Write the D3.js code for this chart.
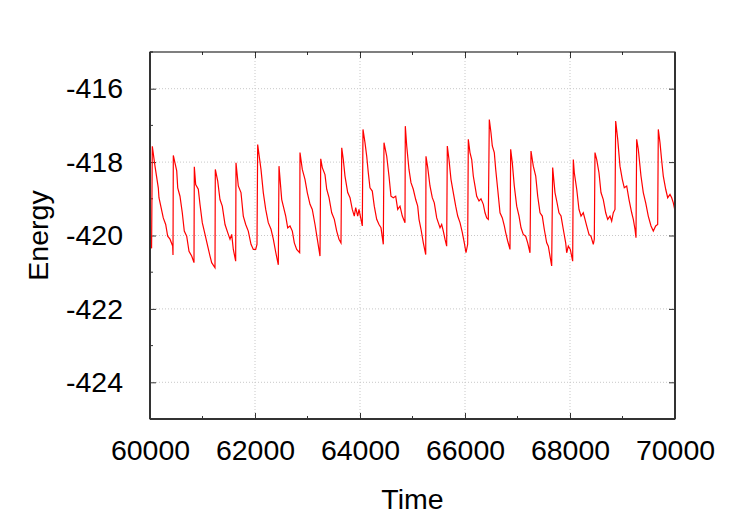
<!DOCTYPE html>
<meta charset="utf-8">
<script src="https://d3js.org/d3.v7.min.js"></script>
<style>
  body { margin: 0; background: #fff; }
  text { font-family: "Liberation Sans", Arial, sans-serif; }
</style>
<div id="chart"></div>
<script>

// time values
var time = [
  60000, 60030, 60044, 60095, 60158, 60171, 60253, 60299, 60337, 60381, 60432, 60438,
  60444, 60509, 60528, 60571, 60615, 60653, 60699, 60743, 60794, 60838,
  60844, 60870, 60920, 60952, 60996, 61048, 61099, 61143, 61175, 61238,
  61244, 61290, 61333, 61377, 61429, 61480, 61524, 61556, 61587, 61632,
  61638, 61682, 61733, 61777, 61823, 61872, 61924, 61968, 62013, 62038,
  62051, 62114, 62158, 62204, 62253, 62305, 62349, 62394, 62444,
  62457, 62509, 62539, 62585, 62623, 62667, 62711, 62749, 62794, 62851,
  62857, 62901, 62952, 62996, 63048, 63091, 63143, 63187, 63238,
  63252, 63282, 63333, 63366, 63410, 63461, 63511, 63556, 63600, 63638,
  63652, 63682, 63714, 63766, 63810, 63853, 63891, 63918, 63956, 63981, 64019, 64044,
  64057, 64095, 64128, 64158, 64190, 64234, 64272, 64318, 64362, 64400, 64444,
  64457, 64509, 64552, 64590, 64634, 64680, 64718, 64762, 64806, 64857,
  64863, 64890, 64933, 64971, 65015, 65061, 65099, 65124, 65162, 65206, 65252,
  65257, 65290, 65333, 65377, 65415, 65461, 65491, 65524, 65556, 65587, 65619, 65651,
  65663, 65695, 65733, 65777, 65823, 65861, 65905, 65949, 65987, 66019, 66051,
  66063, 66095, 66128, 66158, 66190, 66223, 66267, 66305, 66349, 66381, 66414, 66444,
  66463, 66495, 66520, 66558, 66585, 66623, 66667, 66711, 66749, 66775, 66813, 66857,
  66870, 66901, 66939, 66985, 67029, 67067, 67110, 67156, 67194, 67238,
  67257, 67301, 67347, 67385, 67429, 67472, 67510, 67556, 67587, 67619, 67651,
  67670, 67714, 67747, 67790, 67829, 67872, 67918, 67937, 67968, 68006, 68051,
  68063, 68082, 68128, 68171, 68210, 68253, 68286, 68318, 68362, 68400, 68444, 68463,
  68476, 68509, 68552, 68590, 68634, 68680, 68718, 68762, 68794, 68825, 68857,
  68870, 68909, 68952, 68996, 69034, 69080, 69124, 69175, 69206, 69238, 69257,
  69270, 69301, 69352, 69396, 69442, 69491, 69543, 69587, 69632, 69670,
  69682, 69714, 69747, 69777, 69823, 69861, 69905, 69937, 69968, 69987, 70000
]

// energy values, same order
var energy = [
  -419.9, -420.35, -417.57, -418.11, -418.70, -418.97, -419.52, -419.70, -420.02, -420.10, -420.29, -420.53,
  -417.82, -418.24, -418.70, -418.93, -419.38, -419.88, -420.02, -420.43, -420.56, -420.74,
  -418.13, -418.61, -418.74, -419.15, -419.65, -419.97, -420.29, -420.56, -420.74, -420.88,
  -418.20, -418.52, -419.02, -419.20, -419.70, -419.92, -420.10, -419.97, -420.38, -420.70,
  -418.02, -418.65, -418.83, -419.47, -419.70, -419.88, -420.24, -420.38, -420.38, -420.24,
  -417.52, -418.20, -418.83, -419.29, -419.65, -419.83, -420.10, -420.45, -420.80,
  -418.11, -419.02, -419.20, -419.47, -419.79, -419.74, -419.88, -420.20, -420.38, -420.47,
  -417.74, -418.20, -418.47, -418.83, -419.15, -419.29, -419.70, -420.10, -420.56,
  -417.91, -418.15, -418.34, -418.74, -418.97, -419.38, -419.56, -419.88, -420.10, -420.20,
  -417.61, -417.93, -418.38, -418.83, -418.97, -419.29, -419.47, -419.24, -419.47, -419.29, -419.56, -419.74,
  -417.11, -417.47, -417.84, -418.29, -418.70, -418.79, -419.20, -419.56, -419.70, -419.79, -420.24,
  -417.47, -417.84, -418.38, -418.93, -418.97, -418.93, -419.29, -419.20, -419.47, -419.65,
  -417.02, -417.56, -418.20, -418.56, -418.74, -419.02, -419.20, -419.56, -419.83, -420.20, -420.52,
  -417.84, -418.15, -418.65, -418.97, -419.11, -419.52, -419.65, -419.79, -419.70, -419.88, -420.10, -420.29,
  -417.56, -417.93, -418.47, -418.83, -419.20, -419.47, -419.65, -419.92, -420.20, -420.47, -420.24,
  -417.38, -417.74, -417.93, -418.38, -418.65, -418.93, -419.06, -419.00, -419.15, -419.38, -419.52, -419.56,
  -416.84, -417.20, -417.56, -417.74, -418.20, -418.74, -419.38, -419.52, -419.74, -419.92, -420.15, -420.38,
  -417.65, -418.02, -418.65, -419.20, -419.47, -419.79, -419.97, -420.02, -420.20, -420.47,
  -417.70, -418.11, -418.38, -418.93, -419.38, -419.47, -419.83, -420.20, -420.29, -420.56, -420.83,
  -418.15, -418.83, -419.06, -419.38, -419.47, -419.83, -420.20, -420.47, -420.29, -420.38, -420.70,
  -417.93, -418.29, -418.74, -419.29, -419.47, -419.38, -419.56, -419.74, -419.97, -420.02, -420.24, -420.10,
  -417.74, -417.93, -418.29, -418.83, -419.02, -419.38, -419.56, -419.47, -419.61, -419.38, -419.29,
  -416.88, -417.38, -418.11, -418.47, -418.70, -418.65, -419.02, -419.38, -419.56, -419.83, -420.06,
  -417.38, -417.65, -418.38, -418.83, -419.11, -419.47, -419.74, -419.88, -419.74, -419.70,
  -417.11, -417.47, -417.97, -418.38, -418.74, -418.97, -418.88, -418.97, -419.11, -419.24, -419.20
]

var xTicks = [60000, 62000, 64000, 66000, 68000, 70000]
var xMinor = [61000, 63000, 65000, 67000, 69000]
var yTicks = [-416, -418, -420, -422, -424]
var yMinor = [-415, -417, -419, -421, -423, -425]

var data = time.map(function(t, i) { return {t: t, e: energy[i]} })

var fontSize = 28.5

var margin = {top: 52, right: 75, bottom: 106, left: 150},
  width = 750 - margin.left - margin.right,
  height = 525 - margin.top - margin.bottom;

var svg = d3.select("#chart")
.append("svg")
  .attr("width", 750)
  .attr("height", 525)
.append("g")
  .attr("transform", "translate(" + margin.left + "," + margin.top + ")");

var x = d3.scaleLinear()
  .domain([60000, 70000])
  .range([0, width])

var y = d3.scaleLinear()
  .domain([-425, -415])
  .range([height, 0])

// grid lines
svg.selectAll(".gx")
.data(xTicks.slice(1, -1))
.enter()
.append("line")
  .attr("x1", function(d){ return x(d) })
  .attr("x2", function(d){ return x(d) })
  .attr("y1", 0)
  .attr("y2", height)
  .attr("stroke", "#c8c8c8")
  .attr("stroke-dasharray", "1,2")

svg.selectAll(".gy")
.data(yTicks)
.enter()
.append("line")
  .attr("x1", 0)
  .attr("x2", width)
  .attr("y1", function(d){ return y(d) })
  .attr("y2", function(d){ return y(d) })
  .attr("stroke", "#c8c8c8")
  .attr("stroke-dasharray", "1,2")

// axes with inward ticks (mirrored on top/right)
function styleAxis(g) {
  g.select(".domain").remove()
  g.selectAll(".tick line").attr("stroke", "#333")
  g.selectAll("text")
    .attr("font-size", fontSize)
    .attr("fill", "#000")
}

svg.append("g")
  .attr("transform", "translate(0," + height + ")")
  .call(d3.axisBottom(x).tickValues(xTicks).tickFormat(d3.format("d")).tickSizeInner(-6))
  .call(styleAxis)
  .selectAll("text").attr("y", 41).attr("dy", 0)

svg.append("g")
  .call(d3.axisLeft(y).tickValues(yTicks).tickFormat(d3.format("d")).tickSizeInner(-6).tickPadding(27))
  .call(styleAxis)
  .selectAll("text").text(function(d){ return "-" + Math.abs(d) })

svg.append("g")
  .call(d3.axisTop(x).tickValues(xTicks).tickSizeInner(-6).tickFormat(""))
  .call(styleAxis)

svg.append("g")
  .attr("transform", "translate(" + width + ",0)")
  .call(d3.axisRight(y).tickValues(yTicks).tickSizeInner(-6).tickFormat(""))
  .call(styleAxis)

// minor ticks
svg.selectAll(".mx")
.data(xMinor)
.enter()
.append("line")
  .attr("x1", function(d){ return x(d) })
  .attr("x2", function(d){ return x(d) })
  .attr("y1", height)
  .attr("y2", height - 3)
  .attr("stroke", "#333")

svg.selectAll(".mx2")
.data(xMinor)
.enter()
.append("line")
  .attr("x1", function(d){ return x(d) })
  .attr("x2", function(d){ return x(d) })
  .attr("y1", 0)
  .attr("y2", 3)
  .attr("stroke", "#333")

svg.selectAll(".my")
.data(yMinor)
.enter()
.append("line")
  .attr("x1", 0)
  .attr("x2", 3)
  .attr("y1", function(d){ return y(d) })
  .attr("y2", function(d){ return y(d) })
  .attr("stroke", "#333")

// the energy line
svg.append("path")
  .datum(data)
  .attr("fill", "none")
  .attr("stroke", "#ff0000")
  .attr("stroke-width", 1.2)
  .attr("d", d3.line()
    .x(function(d){ return x(d.t) })
    .y(function(d){ return y(d.e) }))

// frame
svg.append("rect")
  .attr("width", width)
  .attr("height", height)
  .attr("fill", "none")
  .attr("stroke", "#000")
  .attr("stroke-width", 1)

svg.append("line")
  .attr("x1", 0).attr("x2", 0)
  .attr("y1", 0).attr("y2", height)
  .attr("stroke", "#333")
  .attr("stroke-width", 2)

svg.append("line")
  .attr("x1", 0).attr("x2", width)
  .attr("y1", height).attr("y2", height)
  .attr("stroke", "#333")
  .attr("stroke-width", 2)

svg.append("line")
  .attr("x1", width).attr("x2", width)
  .attr("y1", 0).attr("y2", height)
  .attr("stroke", "#333")
  .attr("stroke-width", 2)

// axis titles
svg.append("text")
  .attr("x", width / 2)
  .attr("y", height + 90)
  .attr("text-anchor", "middle")
  .attr("font-size", fontSize)
  .text("Time")

svg.append("text")
  .attr("transform", "translate(-102," + (height / 2) + ") rotate(-90)")
  .attr("text-anchor", "middle")
  .attr("font-size", fontSize)
  .text("Energy")

</script>
